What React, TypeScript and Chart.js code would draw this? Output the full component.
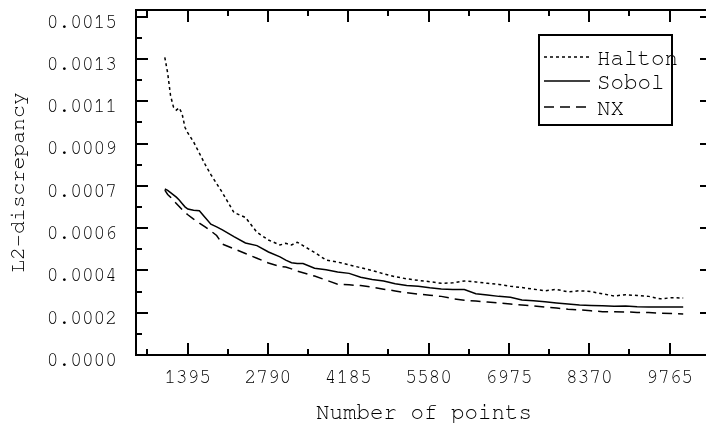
import React, { useEffect, useRef } from "react";
import { Chart, registerables } from "chart.js";

Chart.register(...registerables);

// Number of points
const X_POINTS = [
  1000, 1050, 1100, 1150, 1200, 1250, 1300, 1350, 1400, 1500, 1600, 1700, 1800, 1900, 2000,
  2200, 2400, 2600, 2800, 3000, 3100, 3200, 3300, 3400, 3600, 3800, 4000, 4200, 4400, 4600,
  4800, 5000, 5200, 5400, 5600, 5800, 6000, 6200, 6400, 6600, 6800, 7000, 7200, 7400, 7600,
  7800, 8000, 8200, 8400, 8600, 8800, 9000, 9200, 9400, 9600, 9800, 10000,
];

// L2-discrepancy, in units of 1e-4
const HALTON_E4 = [
  13.2, 12.5, 11.5, 11.0, 10.86, 10.96, 10.7, 10.1, 9.85, 9.45, 8.95, 8.45, 8.0, 7.6, 7.2,
  6.32, 6.1, 5.44, 5.1, 4.88, 4.95, 4.88, 5.0, 4.85, 4.55, 4.21, 4.12, 4.0, 3.87, 3.75,
  3.6, 3.47, 3.38, 3.31, 3.25, 3.18, 3.2, 3.28, 3.24, 3.18, 3.13, 3.05, 2.99, 2.92, 2.85,
  2.91, 2.8, 2.85, 2.81, 2.71, 2.62, 2.67, 2.64, 2.6, 2.49, 2.54, 2.53,
];
const SOBOL_E4 = [
  7.36, 7.3, 7.2, 7.1, 7.0, 6.87, 6.72, 6.57, 6.47, 6.42, 6.4, 6.1, 5.8, 5.68, 5.55,
  5.25, 4.97, 4.85, 4.57, 4.35, 4.21, 4.09, 4.06, 4.06, 3.85, 3.78, 3.68, 3.62, 3.45, 3.35,
  3.28, 3.16, 3.08, 3.05, 2.98, 2.93, 2.91, 2.9, 2.72, 2.66, 2.6, 2.56, 2.44, 2.41, 2.36,
  2.31, 2.26, 2.22, 2.2, 2.18, 2.16, 2.17, 2.14, 2.13, 2.13, 2.13, 2.13,
];
const NX_E4 = [
  7.31, 7.12, 7.0, 6.85, 6.72, 6.59, 6.45, 6.33, 6.22, 6.03, 5.85, 5.68, 5.5, 5.3, 4.92,
  4.71, 4.5, 4.29, 4.08, 3.93, 3.9, 3.82, 3.72, 3.65, 3.5, 3.32, 3.14, 3.11, 3.08, 3.01,
  2.92, 2.84, 2.76, 2.7, 2.65, 2.6, 2.5, 2.43, 2.39, 2.35, 2.31, 2.26, 2.22, 2.18, 2.12,
  2.08, 2.03, 2.0, 1.96, 1.92, 1.92, 1.91, 1.89, 1.88, 1.86, 1.84, 1.82,
];

const SERIES_LABELS = ["Halton", "Sobol", "NX"];

// axes
const X_MIN = 500;
const X_MAX = 10500;
const X_MAJOR_STEP = 1395;
const Y_MIN = 0;
const Y_MAX = 0.00153;
const Y_MAJOR_STEP = 0.0015 / 8;
const Y_TICK_LABELS = ["0.0000", "0.0002", "0.0004", "0.0006", "0.0007", "0.0009", "0.0011", "0.0013", "0.0015"];

const FONT = "'Nimbus Mono PS', 'Nimbus Mono L', FreeMono, 'Courier New', Courier, 'Liberation Mono', monospace";

const frameTicksPlugin = {
  id: "frameTicks",
  afterDatasetsDraw(chart: any) {
    const { ctx, chartArea } = chart;
    const { left, right, top, bottom } = chartArea;
    const xs = chart.scales.x;
    const ys = chart.scales.y;
    ctx.save();
    ctx.strokeStyle = "#000";
    ctx.lineWidth = 2;
    ctx.setLineDash([]);
    ctx.beginPath();
    xs.ticks.forEach((t: any) => {
      const px = Math.round(xs.getPixelForValue(t.value));
      const len = t.major ? 12 : 6;
      ctx.moveTo(px, bottom);
      ctx.lineTo(px, bottom - len);
      ctx.moveTo(px, top);
      ctx.lineTo(px, top + len);
    });
    ys.ticks.forEach((t: any) => {
      const py = Math.round(ys.getPixelForValue(t.value));
      const len = t.major ? 12 : 6;
      ctx.moveTo(left, py);
      ctx.lineTo(left + len, py);
      ctx.moveTo(right, py);
      ctx.lineTo(right - len, py);
    });
    ctx.stroke();
    ctx.strokeRect(left, top, right - left, bottom - top);
    ctx.restore();
  },
};

const legendPlugin = {
  id: "boxLegend",
  afterDraw(chart: any) {
    const { ctx } = chart;
    ctx.save();
    ctx.fillStyle = "#fff";
    ctx.fillRect(539, 35, 133, 90);
    ctx.strokeStyle = "#000";
    ctx.lineWidth = 2;
    ctx.setLineDash([]);
    ctx.strokeRect(539, 35, 133, 90);
    const rows = [57, 81, 107];
    chart.data.datasets.forEach((ds: any, i: number) => {
      const y = rows[i];
      ctx.lineWidth = 1.5;
      ctx.setLineDash(ds.borderDash || []);
      ctx.beginPath();
      ctx.moveTo(544, y);
      ctx.lineTo(590, y);
      ctx.stroke();
      ctx.setLineDash([]);
      ctx.fillStyle = "#000";
      ctx.font = `22.5px ${FONT}`;
      ctx.textBaseline = "middle";
      ctx.textAlign = "left";
      ctx.fillText(ds.label, 597, y + 1);
    });
    ctx.restore();
  },
};

function toPoints(vals: number[]) {
  return X_POINTS.map((x, i) => ({ x, y: vals[i] * 1e-4 }));
}

export default function App() {
  const ref = useRef<HTMLCanvasElement | null>(null);
  useEffect(() => {
    if (!ref.current) return;
    const dash = [[3, 3], [], [10, 6]];
    const series = [HALTON_E4, SOBOL_E4, NX_E4];
    const chart = new Chart(ref.current, {
      type: "line",
      data: {
        datasets: series.map((s, i) => ({
          label: SERIES_LABELS[i],
          data: toPoints(s),
          borderColor: "#000",
          borderWidth: 1.5,
          borderDash: dash[i],
          pointRadius: 0,
          tension: 0,
          fill: false,
        })),
      },
      options: {
        animation: false,
        responsive: false,
        devicePixelRatio: 1,
        layout: { padding: { top: 10, right: 8, left: 0, bottom: 0 } },
        plugins: { legend: { display: false }, tooltip: { enabled: false } },
        scales: {
          x: {
            type: "linear",
            min: X_MIN,
            max: X_MAX,
            grid: { display: false, drawTicks: false },
            border: { display: false },
            afterBuildTicks: (scale: any) => {
              const ticks: any[] = [];
              const half = X_MAJOR_STEP / 2;
              for (let k = Math.ceil(X_MIN / half); k * half <= X_MAX; k++) {
                ticks.push({ value: k * half, major: k % 2 === 0 });
              }
              scale.ticks = ticks;
            },
            afterFit: (scale: any) => {
              scale.height = 68;
              scale.paddingLeft = 0;
              scale.paddingRight = 0;
            },
            ticks: {
              autoSkip: false,
              maxRotation: 0,
              padding: 10,
              color: "#000",
              font: { family: FONT, size: 19.5 },
              callback: (v: any) => {
                const k = Math.round(Number(v) / X_MAJOR_STEP);
                return Math.abs(Number(v) - k * X_MAJOR_STEP) < 1e-6 ? String(k * X_MAJOR_STEP) : "";
              },
            },
            title: {
              display: true,
              text: "Number of points",
              color: "#000",
              font: { family: FONT, size: 22.5, lineHeight: 1 },
              padding: { top: 0, bottom: 0 },
            },
          },
          y: {
            type: "linear",
            min: Y_MIN,
            max: Y_MAX,
            grid: { display: false, drawTicks: false },
            border: { display: false },
            afterBuildTicks: (scale: any) => {
              const ticks: any[] = [];
              for (let k = 0; k <= 16; k++) {
                ticks.push({ value: (k * Y_MAJOR_STEP) / 2, major: k % 2 === 0 });
              }
              scale.ticks = ticks;
            },
            afterFit: (scale: any) => {
              scale.width = 136;
              scale.paddingTop = 0;
              scale.paddingBottom = 0;
            },
            ticks: {
              autoSkip: false,
              padding: 19,
              labelOffset: 5,
              color: "#000",
              font: { family: FONT, size: 19.5 },
              callback: (_v: any, index: number) => (index % 2 === 0 ? Y_TICK_LABELS[index / 2] : ""),
            },
            title: {
              display: true,
              text: "L2-discrepancy",
              color: "#000",
              font: { family: FONT, size: 21.5, lineHeight: 1 },
              padding: { top: 7, bottom: 0 },
            },
          },
        },
      },
      plugins: [frameTicksPlugin, legendPlugin],
    } as any);
    return () => chart.destroy();
  }, []);
  return (
    <div style={{ position: "fixed", left: 0, top: 0, width: 706, height: 423, overflow: "hidden", background: "#fff" }}>
      <canvas ref={ref} width={720} height={423} style={{ display: "block" }} />
    </div>
  );
}
